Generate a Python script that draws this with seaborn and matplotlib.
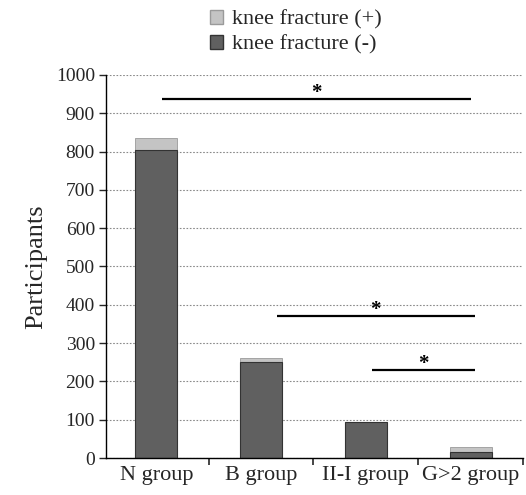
import numpy as np
import pandas as pd
import matplotlib
matplotlib.use('Agg')
import matplotlib.pyplot as plt
import seaborn as sns
from matplotlib.patches import Patch
from matplotlib.ticker import FixedLocator

# 数据
groups = ['N group', 'B group', 'II-I group', 'G>2 group']
fracture_neg = [803, 250, 94, 16]
fracture_pos = [31, 11, 0, 12]
# 显著性标注：(起点, 终点, 高度)
sig_lines = [(0.05, 3.0, 937), (1.15, 3.04, 370), (2.06, 3.04, 229)]

sns.set_style('white')
plt.rcParams['font.family'] = ['Liberation Serif', 'DejaVu Serif']

df = pd.DataFrame({'group': groups,
                   'neg': fracture_neg,
                   'total': np.array(fracture_neg) + np.array(fracture_pos)})

fig = plt.figure(figsize=(5.26, 4.95), dpi=100)
ax = fig.add_axes([0.2015, 0.0747, 0.793, 0.774])

col_pos = '#c4c4c4'
col_neg = '#606060'

sns.barplot(data=df, x='group', y='total', color=col_pos, width=0.4,
            saturation=1, ax=ax, edgecolor='#9a9a9a', linewidth=0.6)
sns.barplot(data=df, x='group', y='neg', color=col_neg, width=0.4,
            saturation=1, ax=ax, edgecolor='#333333', linewidth=0.8)

ax.set_ylim(0, 1000)
ax.set_xlim(-0.48, 3.5)
ax.set_yticks(np.arange(0, 1001, 100))
ax.yaxis.grid(True, linestyle=(0, (1.5, 1.5)), color='#8a8a8a', linewidth=0.8)
ax.set_axisbelow(True)

for s in ['top', 'right']:
    ax.spines[s].set_visible(False)
for s in ['left', 'bottom']:
    ax.spines[s].set_color('black')
    ax.spines[s].set_linewidth(1.0)

ax.tick_params(axis='y', direction='out', length=5, width=1, left=True,
               labelsize=14, pad=3)
ax.tick_params(axis='x', which='major', length=0, labelsize=16, pad=6)
ax.xaxis.set_minor_locator(FixedLocator([-0.5, 0.5, 1.5, 2.5, 3.5]))
ax.tick_params(axis='x', which='minor', direction='out', length=5,
               width=1.2, bottom=True)

ax.set_xlabel('')
ax.set_ylabel('Participants', fontsize=19, labelpad=6)

# 显著性线
for x0, x1, y in sig_lines:
    ax.plot([x0, x1], [y, y], color='black', linewidth=1.6,
            solid_capstyle='butt')
    ax.text((x0 + x1) / 2, y + 3, '*', ha='center', va='baseline',
            fontsize=15, fontweight='bold', color='black')

handles = [Patch(facecolor=col_pos, edgecolor='#9a9a9a', label='knee fracture (+)'),
           Patch(facecolor=col_neg, edgecolor='#333333', label='knee fracture (-)')]
fig.legend(handles=handles, loc='center', bbox_to_anchor=(0.563, 0.935),
           frameon=False, fontsize=16, handlelength=0.6, handleheight=0.6,
           handletextpad=0.4, labelspacing=0.22, borderaxespad=0)

fig.savefig('out.png', dpi=100)
